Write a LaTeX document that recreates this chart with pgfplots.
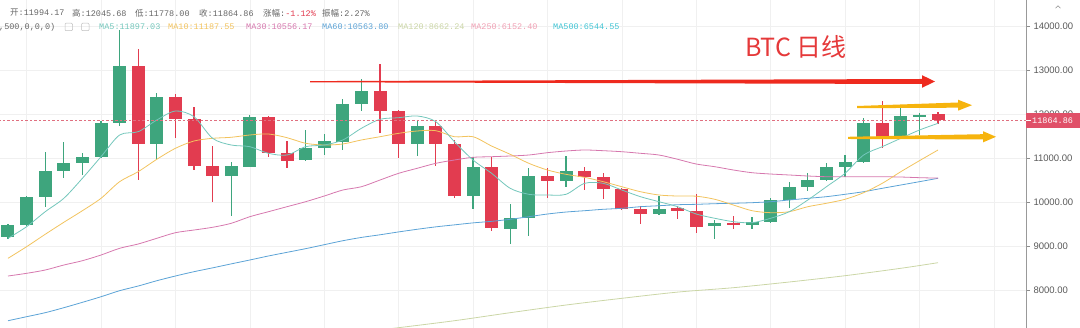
\documentclass[border=0pt]{standalone}
\usepackage{fontspec}
\setmainfont{Liberation Sans}
\newfontfamily\cjk{Noto Sans CJK SC}
\newfontfamily\mono{Liberation Mono}
\usepackage{pgfplots}
\usepackage{pgfplotstable}
\pgfplotsset{compat=1.18}

\definecolor{cup}{HTML}{3EA57D}
\definecolor{cdn}{HTML}{E23C50}
\definecolor{ma5}{HTML}{74C7BC}
\definecolor{ma10}{HTML}{F2C35E}
\definecolor{ma30}{HTML}{D678AE}
\definecolor{ma60}{HTML}{5CA3D6}
\definecolor{ma120}{HTML}{CBD6A6}
\definecolor{ma250}{HTML}{F0A0B4}
\definecolor{ma500}{HTML}{40C4D4}
\definecolor{cdash}{HTML}{E07080}
\definecolor{cbox}{HTML}{E05068}
\definecolor{cred}{HTML}{EE2A1E}
\definecolor{cyel}{HTML}{F6B40E}
\definecolor{ctitle}{HTML}{E5393A}
\definecolor{ctxt}{HTML}{666666}

% up candles
\pgfplotstableread{
i o h l c
0 9221 9520 9180 9487
1 9487 10150 9470 10129
2 10129 11149 9902 10718
3 10711 11376 10546 10886
4 10900 11127 10621 11036
5 11036 11845 11006 11807
6 11807 13909 11732 13093
8 11317 12487 10977 12383
12 10605 10922 9698 10825
13 10809 11975 10800 11929
16 10961 11641 10938 11240
17 11240 11544 11074 11392
18 11376 12344 11188 12231
19 12231 12791 12072 12526
22 11324 11868 11058 11732
25 10151 11036 9850 10809
27 9396 9956 9056 9639
28 9639 10773 9237 10605
30 10485 11058 10355 10711
35 9729 10151 9716 9850
38 9464 9600 9162 9525
40 9487 9675 9389 9562
41 9548 10106 9530 10054
42 10054 10469 9865 10355
43 10355 10673 10265 10507
44 10507 10900 10490 10809
45 10795 11074 10582 10909
46 10909 11920 10893 11807
48 11489 12170 11483 11959
49 11952 12034 11528 11981
}\up

% down candles
\pgfplotstableread{
i o h l c
7 13093 13472 10507 11317
9 12383 12451 11453 11891
10 11891 12170 10734 10832
11 10832 11278 10002 10605
14 11929 11960 11036 11113
15 11113 11399 10786 10945
20 12526 13138 11566 12079
21 12079 12100 10999 11324
23 11732 11830 10825 11324
24 11324 11415 10092 10151
26 10809 11036 9351 9412
29 10605 10773 10106 10485
31 10718 10809 10280 10568
32 10568 10659 10076 10303
33 10303 10326 9827 9843
34 9843 9924 9503 9729
36 9865 9924 9623 9804
37 9804 10183 9298 9448
39 9525 9698 9389 9480
47 11807 12306 11226 11489
50 11994.17 12045.68 11778 11864.86
}\down

\pgfplotstableread{
i ma5 ma10 ma30 ma60
0 9185 8731 8330 7316
1 9448 8995 8391 7407
2 9788 9276 8466 7498
3 10092 9548 8579 7611
4 10546 9811 8677 7733
5 11036 10092 8806 7860
6 11528 10469 8958 7997
7 11603 10696 9056 8103
8 11868 10977 9185 8223
9 12072 11226 9312 8330
10 11943 11392 9373 8428
11 11453 11453 9435 8515
12 11301 11476 9525 8605
13 11263 11528 9675 8693
14 11113 11551 9788 8784
15 11074 11467 9902 8867
16 11263 11340 10015 8950
17 11301 11301 10144 9040
18 11415 11324 10280 9130
19 11680 11415 10355 9205
20 11884 11489 10507 9265
21 11920 11566 10659 9330
22 11959 11619 10773 9390
23 11830 11626 10886 9445
24 11376 11489 10961 9490
25 10961 11489 11022 9535
26 10659 11278 11036 9570
27 10319 11090 11052 9616
28 10183 10886 11074 9675
29 10167 10734 11127 9736
30 10183 10636 11165 9781
31 10432 10568 11188 9811
32 10432 10469 11172 9843
33 10280 10355 11149 9865
34 10129 10242 11113 9902
35 10015 10167 11074 9924
36 9902 10144 10977 9947
37 9736 10140 10870 9956
38 9639 10070 10809 9970
39 9562 9940 10734 9980
40 9539 9811 10673 9993
41 9639 9766 10643 10015
42 9788 9788 10621 10054
43 10054 9902 10598 10092
44 10355 9979 10582 10129
45 10659 10070 10582 10183
46 11074 10220 10582 10242
47 11263 10432 10582 10319
48 11453 10696 10575 10394
49 11641 10945 10560 10469
50 11793 11188 10550 10546
}\ma

\pgfplotstableread{
i v
20 7110
21 7158
24 7316
27 7498
30 7672
33 7824
36 7965
39 8065
42 8194
45 8337
48 8505
50 8632
}\maonetwenty

\begin{document}
\begin{tikzpicture}[x=1pt,y=1pt]
\useasboundingbox (0,0) rectangle (1080,328);
\begin{axis}[
  at={(0pt,0pt)}, anchor=south west,
  scale only axis, width=1026pt, height=328pt,
  xmin=-0.43, xmax=54.73, ymin=7151, ymax=14590,
  axis line style={draw=none},
  xtick={1,5,...,53}, xticklabels=\empty, xtick style={draw=none},
  xmajorgrids, ymajorgrids,
  grid style={color=black!6, line width=0.5pt},
  ytick={8000,9000,10000,11000,12000,13000,14000},
  yticklabels={8000.00,9000.00,10000.00,11000.00,12000.00,13000.00,14000.00},
  ytick pos=right, yticklabel pos=right,
  tick align=outside, major tick length=4pt,
  ytick style={color=black!45, line width=0.5pt},
  yticklabel style={font=\fontsize{9.5}{10}\selectfont, text=black!65},
  clip=true,
]
% wicks
\addplot[draw=none, mark=none, forget plot,
  error bars/.cd, y dir=both, y explicit, error mark=none,
  error bar style={line width=1.3pt, draw=cup}]
  table[x=i, y expr={(\thisrow{h}+\thisrow{l})/2}, y error expr={(\thisrow{h}-\thisrow{l})/2}] {\up};
\addplot[draw=none, mark=none, forget plot,
  error bars/.cd, y dir=both, y explicit, error mark=none,
  error bar style={line width=1.3pt, draw=cdn}]
  table[x=i, y expr={(\thisrow{h}+\thisrow{l})/2}, y error expr={(\thisrow{h}-\thisrow{l})/2}] {\down};
% bodies
\addplot[draw=none, mark=none, forget plot,
  error bars/.cd, y dir=both, y explicit, error mark=none,
  error bar style={line width=13pt, draw=cup}]
  table[x=i, y expr={(\thisrow{o}+\thisrow{c})/2}, y error expr={max(abs(\thisrow{o}-\thisrow{c})/2,14)}] {\up};
\addplot[draw=none, mark=none, forget plot,
  error bars/.cd, y dir=both, y explicit, error mark=none,
  error bar style={line width=13pt, draw=cdn}]
  table[x=i, y expr={(\thisrow{o}+\thisrow{c})/2}, y error expr={max(abs(\thisrow{o}-\thisrow{c})/2,14)}] {\down};
% moving averages
\addplot[ma120, line width=0.8pt, smooth, mark=none] table[x=i, y=v] {\maonetwenty};
\addplot[ma60, line width=0.8pt, smooth, mark=none] table[x=i, y=ma60] {\ma};
\addplot[ma30, line width=0.8pt, smooth, mark=none] table[x=i, y=ma30] {\ma};
\addplot[ma10, line width=0.8pt, smooth, mark=none] table[x=i, y=ma10] {\ma};
\addplot[ma5, line width=0.8pt, smooth, mark=none] table[x=i, y=ma5] {\ma};
% last close line
\addplot[cdash, line width=0.6pt, dash pattern=on 2.5pt off 2pt, mark=none] coordinates {(-1,11864.86) (56,11864.86)};
\end{axis}

% right axis line
\draw[black!40, line width=0.6pt] (1026,0) -- (1026,328);
% last price box
\fill[cbox] (1026.3,200.3) rectangle (1080,215);
\draw[white, line width=0.6pt] (1026.3,207.6) -- (1030.5,207.6);
\node[anchor=west, inner sep=0pt, text=white, font=\mono\fontsize{8.5}{9}\selectfont] at (1032,207.6) {11864.86};
% caret
\draw[black!45, line width=0.6pt] (1055.5,319.8) -- (1058,322.3) -- (1060.5,319.8);

% arrows
\fill[cred] (310,246.9) -- (922,249.0) -- (922,252.8) -- (935,246.5) -- (922,240.2) -- (922,244.0) -- (310,245.7) -- cycle;
\fill[cyel] (857,222.0) -- (958,225.5) -- (958,228.3) -- (972,222.8) -- (958,217.3) -- (958,220.3) -- (857,219.8) -- cycle;
\fill[cyel] (848,191.2) -- (983,193.8) -- (983,196.8) -- (996,191.2) -- (983,185.6) -- (983,188.6) -- (848,189.0) -- cycle;

% title
\node[text=ctitle, font=\cjk\fontsize{25}{28}\selectfont, inner sep=0pt] at (796,281) {BTC 日线};

% header line 1
\begin{scope}[every node/.style={anchor=west, inner sep=0pt, text=ctxt, font=\mono\fontsize{8.5}{9}\selectfont}]
\node at (10,315) {{\cjk 开}:11994.17};
\node at (72,315) {{\cjk 高}:12045.68};
\node at (135,315) {{\cjk 低}:11778.00};
\node at (199,315) {{\cjk 收}:11864.86};
\node at (263,315) {{\cjk 涨幅}:\textcolor{cdn}{-1.12\%}};
\node at (322,315) {{\cjk 振幅}:2.27\%};
% line 2
\node at (-1,301) {,500,0,0,0)};
\node[text=ma5] at (99,301) {MA5:11897.03};
\node[text=ma10] at (168,301) {MA10:11187.55};
\node[text=ma30] at (246,301) {MA30:10556.17};
\node[text=ma60] at (322,301) {MA60:10563.80};
\node[text=ma120] at (398,301) {MA120:8662.24};
\node[text=ma250] at (471,301) {MA250:6152.40};
\node[text=ma500] at (553,301) {MA500:6544.55};
\end{scope}
\draw[black!25, line width=0.5pt, rounded corners=1pt] (65,297.3) rectangle (72.5,304.8);
\draw[black!25, line width=0.5pt, rounded corners=1pt] (81.5,297.3) rectangle (89,304.8);
\end{tikzpicture}
\end{document}
